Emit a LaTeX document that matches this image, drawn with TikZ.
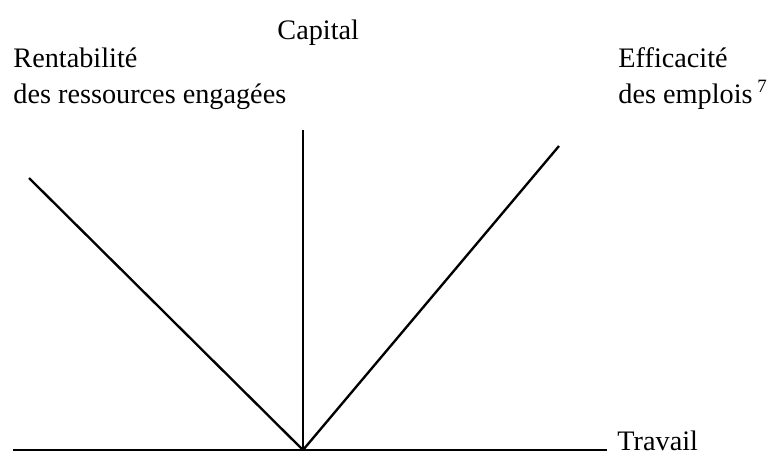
\documentclass[tikz,border=0pt]{standalone}
\usepackage{fontspec}
\setmainfont{Liberation Serif}
\usepackage{tikz}
\usetikzlibrary{positioning,calc}
\tikzstyle{LABEL} = [inner sep=0pt, anchor=base west, align=left, font=\fontsize{12}{14.9}\selectfont]
\tikzstyle{AXIS} = [draw, line width=1pt]

\begin{document}
\begin{tikzpicture}[x=0.425pt, y=-0.425pt]
% Frame
\useasboundingbox (0,0) rectangle (772,453);
% Place points
\coordinate (ORIGIN) at (303,450);
\coordinate (AXIS_LEFT) at (13,450);
\coordinate (AXIS_RIGHT) at (607,450);
\coordinate (TOP_CAPITAL) at (303,130);
\coordinate (TOP_RENTA) at (29,178);
\coordinate (TOP_EFFIC) at (559,146);
% Place node (base = last line)
\node [LABEL] (CAPITAL) at (277,39) {Capital};
\node [LABEL] (RENTA) at (13,103) {Rentabilité\\des ressources engagées};
\node [LABEL] (EFFIC) at (618,103) {Efficacité\\des emplois\,\textsuperscript{7}};
\node [LABEL] (TRAVAIL) at (617,450) {Travail};
% LINES
\path [AXIS] (AXIS_LEFT) -- (AXIS_RIGHT);
\path [AXIS] (ORIGIN) -- (TOP_CAPITAL);
\path [AXIS] (ORIGIN) -- (TOP_RENTA);
\path [AXIS] (ORIGIN) -- (TOP_EFFIC);
\end{tikzpicture}
\end{document}
